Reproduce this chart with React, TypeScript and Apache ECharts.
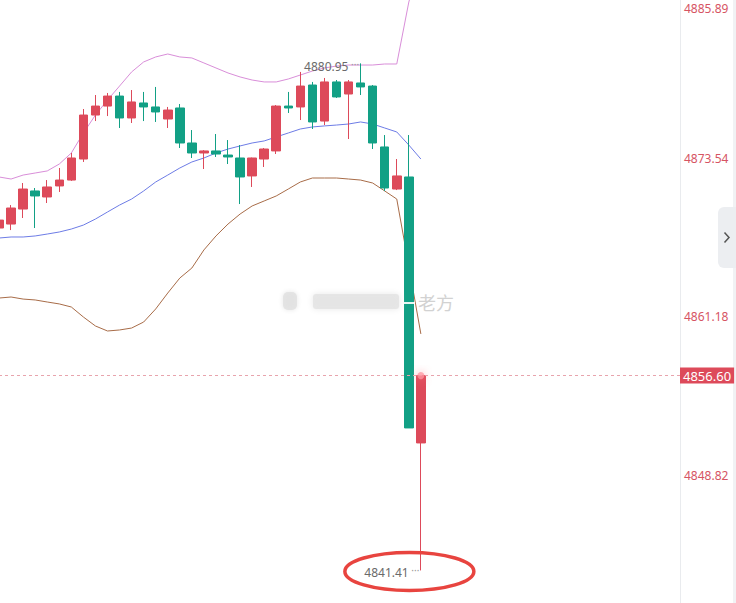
import React, { useEffect, useRef } from "react";
import * as echarts from "echarts";

// ---- data ----
const opens = [4868.11, 4868.42, 4869.59, 4871.0, 4870.53, 4871.39, 4871.85, 4873.49, 4876.92, 4877.62, 4878.4, 4876.69, 4877.86, 4877.55, 4876.61, 4877.47, 4874.74, 4873.96, 4874.12, 4873.8, 4873.57, 4872.17, 4873.49, 4874.12, 4877.62, 4877.55, 4879.26, 4876.45, 4879.5, 4878.56, 4879.42, 4879.18, 4874.43, 4871.15, 4872.09, 4851.35];
const closes = [4868.73, 4869.67, 4871.15, 4870.61, 4871.31, 4871.85, 4873.57, 4876.92, 4877.62, 4878.4, 4876.69, 4877.94, 4877.55, 4877.16, 4877.31, 4874.74, 4873.96, 4874.12, 4873.88, 4873.65, 4872.09, 4873.57, 4874.27, 4877.62, 4877.47, 4879.18, 4876.38, 4879.5, 4878.33, 4879.5, 4879.11, 4874.74, 4871.23, 4872.17, 4852.52, 4856.6];
const lows = [4867.8, 4867.95, 4868.89, 4868.11, 4870.06, 4870.92, 4871.78, 4873.26, 4876.45, 4876.84, 4875.91, 4876.3, 4876.45, 4876.38, 4875.91, 4874.35, 4873.57, 4872.71, 4873.65, 4873.1, 4869.98, 4871.31, 4872.87, 4873.88, 4877.08, 4876.53, 4875.83, 4876.14, 4878.25, 4875.05, 4878.48, 4874.27, 4871.0, 4871.07, 4852.52, 4841.41];
const highs = [4869.12, 4869.9, 4871.62, 4871.23, 4871.85, 4872.79, 4873.96, 4877.39, 4878.48, 4878.64, 4878.72, 4878.87, 4878.72, 4879.11, 4877.55, 4877.78, 4875.75, 4874.19, 4875.44, 4874.97, 4874.58, 4873.6, 4874.35, 4877.7, 4878.72, 4880.28, 4879.5, 4879.81, 4879.65, 4879.65, 4880.95, 4879.26, 4875.36, 4873.49, 4875.36, 4856.6];

const bollUpper = [4872.09, 4871.93, 4872.24, 4872.4, 4872.56, 4873.1, 4873.96, 4875.52, 4876.92, 4878.09, 4879.18, 4880.28, 4881.06, 4881.45, 4881.68, 4881.45, 4881.37, 4880.98, 4880.59, 4880.2, 4879.89, 4879.65, 4879.5, 4879.5, 4879.73, 4880.04, 4880.35, 4880.59, 4880.74, 4880.82, 4880.82, 4880.82, 4880.9, 4880.9, 4885.73, 4889.01];
const bollMid = [4867.33, 4867.41, 4867.41, 4867.49, 4867.64, 4867.8, 4868.03, 4868.34, 4868.81, 4869.36, 4869.9, 4870.37, 4871.0, 4871.7, 4872.24, 4872.79, 4873.26, 4873.57, 4873.96, 4874.27, 4874.51, 4874.74, 4874.9, 4875.21, 4875.52, 4875.83, 4875.99, 4876.07, 4876.14, 4876.22, 4876.38, 4876.22, 4875.91, 4875.6, 4874.58, 4873.49];
const bollLower = [4862.65, 4862.73, 4862.57, 4862.5, 4862.34, 4862.19, 4861.95, 4861.17, 4860.47, 4860.08, 4860.16, 4860.31, 4860.78, 4861.8, 4863.04, 4864.21, 4864.99, 4866.4, 4867.49, 4868.42, 4869.2, 4869.83, 4870.22, 4870.61, 4871.15, 4871.7, 4872.01, 4872.01, 4872.01, 4871.93, 4871.85, 4871.62, 4871.0, 4870.37, 4865.15, 4859.85];

const yTicks = [4848.82, 4861.18, 4873.54, 4885.89];
const yMin = 4838.87;
const yMax = 4885.89;
const lastPrice = 4856.6;
const slotCount = 57;
const categories = Array.from({ length: slotCount }, (_, i) => String(i + 1));

const UP = "#dd4a5a";
const DOWN = "#12a085";
const AXIS_RED = "#d65463";

const extremeLabel = (dy: number) => ({
  show: true,
  position: "left",
  distance: 1,
  offset: [0, dy],
  formatter: (p: any) => `{v|${Number(p.value).toFixed(2)}}{d| ···}`,
  rich: {
    v: { color: "#6a6a6a", fontSize: 12 },
    d: { color: "#9a9a9a", fontSize: 10, padding: [0, 0, 4, 0] },
  },
});

export default function App() {
  const ref = useRef<HTMLDivElement>(null);

  useEffect(() => {
    if (!ref.current) return;
    const chart = echarts.init(ref.current, null, { renderer: "svg" });
    const candles = opens.map((o, i) => [o, closes[i], lows[i], highs[i]]);
    const lastIdx = closes.length - 1;

    chart.setOption({
      animation: false,
      textStyle: { fontFamily: "Noto Sans, sans-serif" },
      grid: { left: -7, right: 56, top: 0, bottom: 0, outerBoundsMode: "none", containLabel: false },
      xAxis: {
        type: "category",
        data: categories,
        show: false,
      },
      yAxis: {
        type: "value",
        position: "right",
        min: yMin,
        max: yMax,
        splitLine: { show: false },
        axisTick: { show: false },
        axisLine: { show: true, lineStyle: { color: "#e9ebee", width: 1 } },
        axisLabel: {
          customValues: yTicks,
          margin: 4,
          color: AXIS_RED,
          fontSize: 12,
          formatter: (v: number) =>
            v >= yTicks[yTicks.length - 1] - 0.001 ? `{t|${v.toFixed(2)}}` : v.toFixed(2),
          rich: { t: { padding: [16, 0, 0, 0], color: AXIS_RED, fontSize: 12 } },
        },
      },
      series: [
        {
          type: "line",
          data: bollUpper,
          showSymbol: false,
          symbol: "none",
          lineStyle: { color: "#d98ed9", width: 1 },
          z: 1,
        },
        {
          type: "line",
          data: bollMid,
          showSymbol: false,
          symbol: "none",
          lineStyle: { color: "#6d7ce6", width: 1 },
          z: 1,
        },
        {
          type: "line",
          data: bollLower,
          showSymbol: false,
          symbol: "none",
          lineStyle: { color: "#a86c48", width: 1 },
          z: 1,
        },
        {
          type: "candlestick",
          data: candles,
          barWidth: 9,
          z: 3,
          itemStyle: {
            color: UP,
            color0: DOWN,
            borderColor: UP,
            borderColor0: DOWN,
            borderWidth: 1,
          },
          markLine: {
            silent: true,
            symbol: ["none", "none"],
            lineStyle: { color: "#e8a4ad", type: [3, 3], width: 1 },
            label: {
              position: "end",
              distance: 0,
              formatter: lastPrice.toFixed(2),
              backgroundColor: UP,
              color: "#fff",
              fontSize: 13,
              padding: [2, 3, 1, 3],
            },
            data: [{ yAxis: lastPrice }],
          },
          markPoint: {
            silent: true,
            data: [
              {
                type: "max",
                valueDim: "highest",
                symbol: "circle",
                symbolSize: 1,
                itemStyle: { color: "rgba(0,0,0,0)" },
                label: extremeLabel(3),
              },
              {
                type: "min",
                valueDim: "lowest",
                symbol: "circle",
                symbolSize: 1,
                itemStyle: { color: "rgba(0,0,0,0)" },
                label: extremeLabel(2),
              },
              {
                coord: [categories[lastIdx], closes[lastIdx]],
                symbol: "circle",
                symbolSize: 7,
                itemStyle: {
                  color: "rgba(255,150,160,0.75)",
                  shadowBlur: 8,
                  shadowColor: "rgba(255,120,135,0.9)",
                },
                label: { show: false },
              },
            ],
          },
        },
      ],
    });

    // annotation ellipse around the low label, placed from the scales
    const minLow = Math.min(...lows);
    const minIdx = lows.indexOf(minLow);
    const p = chart.convertToPixel({ gridIndex: 0 }, [categories[minIdx], minLow]) as number[];

    chart.setOption({
      graphic: [
        // watermark
        {
          type: "rect",
          shape: { x: 283, y: 292, width: 14, height: 18, r: 5 },
          style: { fill: "#e2e2e2", shadowBlur: 5, shadowColor: "#e2e2e2", opacity: 0.85 },
          silent: true,
          z: 5,
        },
        {
          type: "rect",
          shape: { x: 313, y: 294, width: 86, height: 15, r: 3 },
          style: { fill: "#e4e4e4", shadowBlur: 6, shadowColor: "#e4e4e4", opacity: 0.85 },
          silent: true,
          z: 5,
        },
        {
          type: "rect",
          shape: { x: 404, y: 302, width: 11, height: 2 },
          style: { fill: "#ffffff", opacity: 0.9 },
          silent: true,
          z: 6,
        },
        {
          type: "text",
          x: 418,
          y: 302,
          silent: true,
          z: 6,
          style: {
            text: "老方",
            fill: "#d2d2d2",
            font: "18px 'Noto Sans CJK SC', sans-serif",
            verticalAlign: "middle",
            stroke: "#ffffff",
            lineWidth: 1,
          },
        },
        // red ellipse annotation
        {
          type: "ellipse",
          shape: { cx: p[0] - 11.5, cy: p[1] + 1, rx: 64.5, ry: 19 },
          style: { fill: "none", stroke: "#e8443f", lineWidth: 3.5 },
          silent: true,
          z: 10,
        },
        // right edge strip and collapse button
        {
          type: "rect",
          shape: { x: 733, y: 0, width: 3, height: 603 },
          style: { fill: "#f1f2f4" },
          silent: true,
        },
        {
          type: "rect",
          shape: { x: 718, y: 207, width: 18, height: 61, r: [6, 0, 0, 6] },
          style: { fill: "#eceef1" },
          silent: true,
          z: 10,
        },
        {
          type: "polyline",
          shape: { points: [[724.5, 232.5], [729, 237.5], [724.5, 242.5]] },
          style: { stroke: "#555", lineWidth: 1.5, fill: "none" },
          silent: true,
          z: 11,
        },
      ],
    });

    return () => chart.dispose();
  }, []);

  return (
    <div
      ref={ref}
      style={{ position: "fixed", left: 0, top: 0, width: 736, height: 603, background: "#fff" }}
    />
  );
}
